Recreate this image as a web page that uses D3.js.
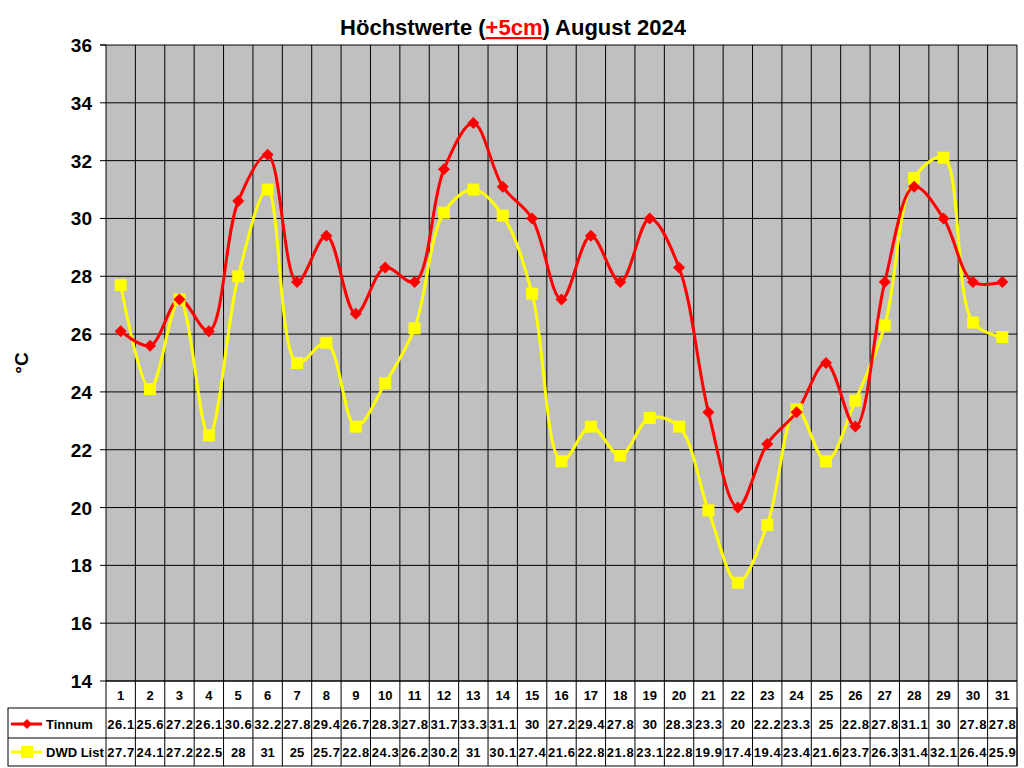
<!DOCTYPE html><html><head><meta charset="utf-8"><script src="https://cdn.jsdelivr.net/npm/d3@7"></script>
<style>body{margin:0;background:#fff}text{font-family:Arial,"Liberation Sans",sans-serif;font-weight:bold}</style></head><body><svg id="c" width="1024" height="768"></svg><script>
const days=d3.range(1,32);
const tinnum=[26.1,25.6,27.2,26.1,30.6,32.2,27.8,29.4,26.7,28.3,27.8,31.7,33.3,31.1,30,27.2,29.4,27.8,30,28.3,23.3,20,22.2,23.3,25,22.8,27.8,31.1,30,27.8,27.8];
const dwd=[27.7,24.1,27.2,22.5,28,31,25,25.7,22.8,24.3,26.2,30.2,31,30.1,27.4,21.6,22.8,21.8,23.1,22.8,19.9,17.4,19.4,23.4,21.6,23.7,26.3,31.4,32.1,26.4,25.9];
const yTicks=d3.range(14,37,2);
const svg=d3.select("#c");
const L=106,R=1017,T=45,B=681;
const x=d3.scaleBand().domain(days).range([L,R]);
const y=d3.scaleLinear().domain([14,36]).range([B,T]);
svg.append("rect").attr("x",L).attr("y",T).attr("width",R-L).attr("height",B-T).attr("fill","#c0c0c0");
svg.selectAll(".hg").data(yTicks).join("line").attr("x1",L).attr("x2",R).attr("y1",d=>y(d)).attr("y2",d=>y(d)).attr("stroke","#000").attr("stroke-width",1);
svg.selectAll(".vg").data(days).join("line").attr("x1",d=>x(d)).attr("x2",d=>x(d)).attr("y1",T).attr("y2",766).attr("stroke","#000");
svg.append("line").attr("x1",R).attr("x2",R).attr("y1",T).attr("y2",766).attr("stroke","#000");
svg.append("line").attr("x1",L-6).attr("x2",L).attr("y1",T).attr("y2",T).attr("stroke","#000");
svg.selectAll(".yt").data(yTicks).join("text").attr("x",L-14).attr("y",d=>y(d)+7).attr("text-anchor","end").attr("font-size",19).text(d=>d);
svg.selectAll(".tk").data(yTicks).join("line").attr("x1",L-6).attr("x2",L).attr("y1",d=>y(d)).attr("y2",d=>y(d)).attr("stroke","#000");
svg.append("text").attr("transform","translate(28,363) rotate(-90)").attr("text-anchor","middle").attr("font-size",19).text("°C");
const t=svg.append("text").attr("x",513).attr("y",35).attr("text-anchor","middle").attr("font-size",22);
t.append("tspan").text("Höchstwerte (");t.append("tspan").attr("fill","#ff0000").attr("text-decoration","underline").text("+5cm");t.append("tspan").text(") August 2024");
const cx=d=>x(d)+x.bandwidth()/2;
const line=d3.line().x((v,i)=>cx(days[i])).y(v=>y(v)).curve(d3.curveCatmullRom.alpha(0.5));
svg.append("path").attr("d",line(dwd)).attr("fill","none").attr("stroke","#ffff00").attr("stroke-width",3);
svg.append("path").attr("d",line(tinnum)).attr("fill","none").attr("stroke","#ff0000").attr("stroke-width",3);
svg.selectAll(".sq").data(dwd).join("rect").attr("x",(v,i)=>cx(days[i])-6).attr("y",v=>y(v)-6).attr("width",12).attr("height",12).attr("fill","#ffff00");
svg.selectAll(".dm").data(tinnum).join("path").attr("transform",(v,i)=>`translate(${cx(days[i])},${y(v)})`).attr("d","M0,-6L6,0L0,6L-6,0Z").attr("fill","#ff0000");
// table
const rows=[708,738,766];
svg.append("rect").attr("x",8).attr("y",708).attr("width",R-8).attr("height",58).attr("fill","none").attr("stroke","#000");
svg.append("line").attr("x1",8).attr("x2",R).attr("y1",738).attr("y2",738).attr("stroke","#000");
svg.append("line").attr("x1",L).attr("x2",R).attr("y1",B).attr("y2",B).attr("stroke","#000");
svg.selectAll(".dl").data(days).join("text").attr("x",d=>cx(d)).attr("y",700).attr("text-anchor","middle").attr("font-size",13).text(d=>d);
svg.selectAll(".tv").data(tinnum).join("text").attr("x",(v,i)=>cx(days[i])).attr("y",729).attr("text-anchor","middle").attr("font-size",13).attr("textLength",v=>String(v).length>2?27:null).text(v=>v);
svg.selectAll(".dv").data(dwd).join("text").attr("x",(v,i)=>cx(days[i])).attr("y",757).attr("text-anchor","middle").attr("font-size",13).attr("textLength",v=>String(v).length>2?27:null).text(v=>v);
svg.append("line").attr("x1",11).attr("x2",42).attr("y1",724).attr("y2",724).attr("stroke","#ff0000").attr("stroke-width",3);
svg.append("path").attr("transform","translate(27,724)").attr("d","M0,-5L5,0L0,5L-5,0Z").attr("fill","#ff0000");
svg.append("text").attr("x",46).attr("y",729).attr("font-size",13).text("Tinnum");
svg.append("line").attr("x1",11).attr("x2",42).attr("y1",752).attr("y2",752).attr("stroke","#ffff00").attr("stroke-width",3);
svg.append("rect").attr("x",21).attr("y",746).attr("width",12).attr("height",12).attr("fill","#ffff00");
svg.append("text").attr("x",46).attr("y",757).attr("font-size",13).text("DWD List");
</script></body></html>
